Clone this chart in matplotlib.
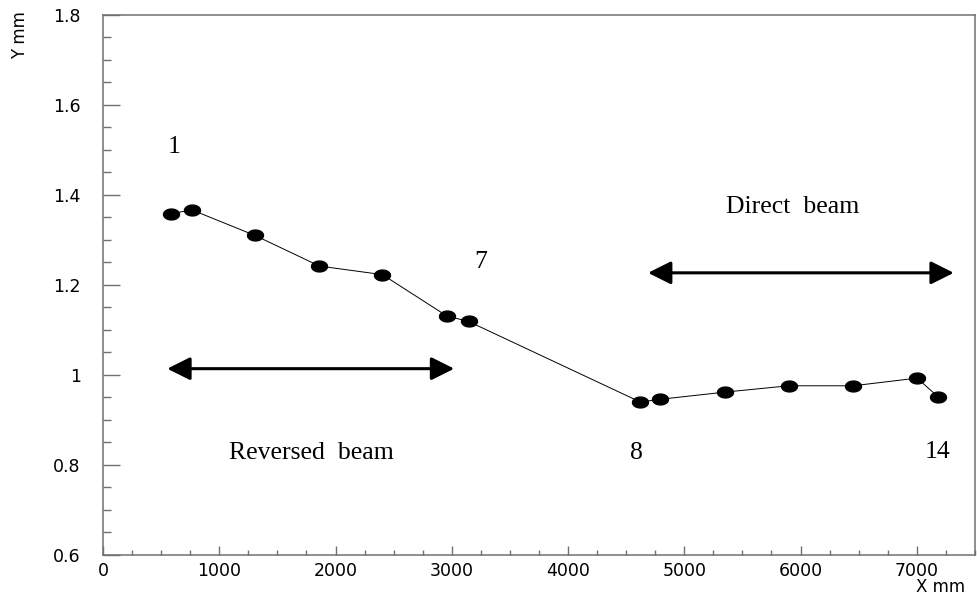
import numpy as np
import matplotlib
matplotlib.use("Agg")
import matplotlib.pyplot as plt
from matplotlib.path import Path
from matplotlib.ticker import MultipleLocator

# measured beam position along the line, points 1..14
x_mm = [583, 763, 1308, 1862, 2404, 2958, 3144,
        4621, 4793, 5353, 5898, 6452, 7003, 7180]
y_mm = [1.358, 1.367, 1.310, 1.242, 1.223, 1.131, 1.119,
        0.940, 0.946, 0.962, 0.976, 0.976, 0.993, 0.952]

point_labels = ["1", "7", "8", "14"]
point_label_xy = [(611, 1.507), (3253, 1.251), (4587, 0.827), (7177, 0.829)]

gray = "#707070"

fig = plt.figure(figsize=(9.77, 5.99), dpi=100)
ax = fig.add_axes([0.1054, 0.0735, 0.8925, 0.9015])

# flat elliptical marker
t = np.linspace(0, 2 * np.pi, 60)
ellipse = Path(np.column_stack([np.cos(t), 0.68 * np.sin(t)]), closed=True)

ax.plot(x_mm, y_mm, color="black", lw=0.7, zorder=2)
ax.plot(x_mm, y_mm, ls="none", marker=ellipse, markersize=11.5,
        color="black", zorder=3)

ax.set_xlim(0, 7500)
ax.set_ylim(0.6, 1.8)

ax.xaxis.set_major_locator(MultipleLocator(1000))
ax.xaxis.set_minor_locator(MultipleLocator(250))
ax.yaxis.set_major_locator(MultipleLocator(0.2))
ax.yaxis.set_minor_locator(MultipleLocator(0.05))
ax.set_xticks(range(0, 8000, 1000))
ax.set_xticklabels([str(v) for v in range(0, 8000, 1000)])
ax.set_yticks([0.6, 0.8, 1.0, 1.2, 1.4, 1.6, 1.8])
ax.set_yticklabels(["0.6", "0.8", "1", "1.2", "1.4", "1.6", "1.8"])

for s in ax.spines.values():
    s.set_color(gray)
    s.set_linewidth(1.1)

ax.tick_params(axis="both", which="both", direction="in", color=gray,
               width=1.0, labelsize=12.5, labelcolor="black")
ax.tick_params(axis="y", which="major", length=12, pad=16)
ax.tick_params(axis="y", which="minor", length=6)
ax.tick_params(axis="x", which="major", length=6.5, pad=5)
ax.tick_params(axis="x", which="minor", length=3.5)
for lab in ax.get_xticklabels() + ax.get_yticklabels():
    lab.set_family("DejaVu Sans")

fig.text(0.020, 0.942, "Y mm", rotation=90, ha="center", va="center",
         fontsize=12, family="DejaVu Sans")
fig.text(0.963, 0.020, "X mm", ha="center", va="center",
         fontsize=12, family="DejaVu Sans")

serif = dict(family="Liberation Serif", fontsize=18.5, color="black",
             ha="center", va="center")
for lab, (px, py) in zip(point_labels, point_label_xy):
    ax.text(px, py, lab, **serif)
ax.text(5930, 1.373, "Direct  beam", **serif)
ax.text(1790, 0.827, "Reversed  beam", **serif)

arrow = dict(arrowstyle="<|-|>,head_length=1.4,head_width=0.7",
             color="black", lw=2.2, shrinkA=0, shrinkB=0, mutation_scale=10)
ax.annotate("", xy=(3021, 1.014), xytext=(553, 1.014), arrowprops=arrow)
ax.annotate("", xy=(7318, 1.227), xytext=(4688, 1.227), arrowprops=arrow)

fig.savefig("out.png", dpi=100)
